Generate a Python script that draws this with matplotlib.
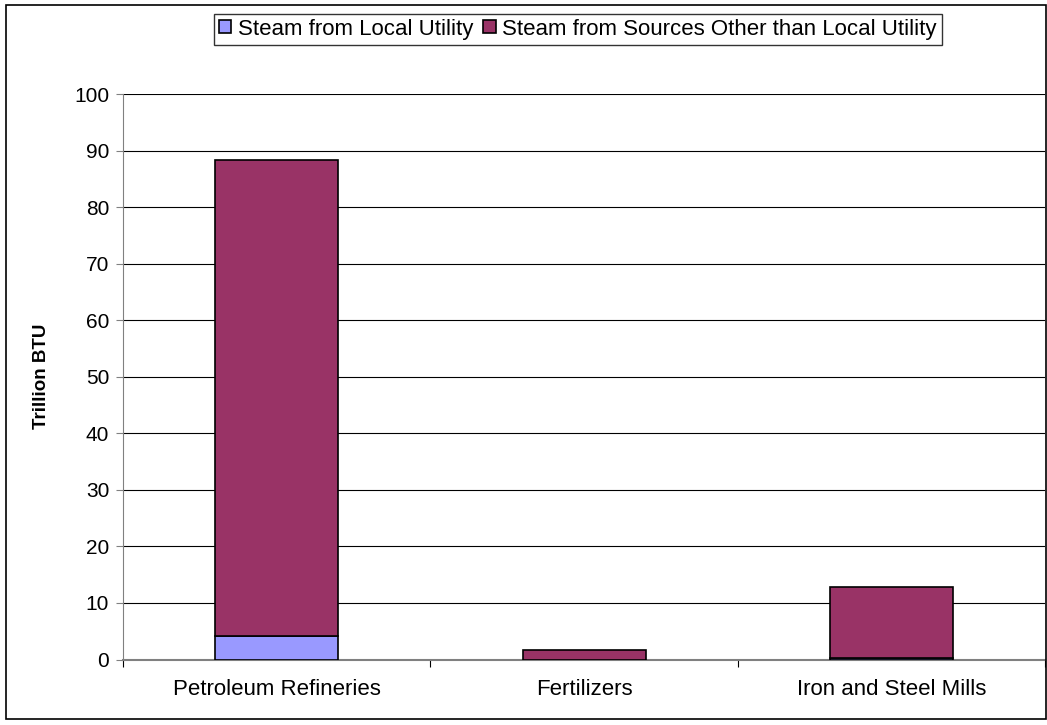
import matplotlib.pyplot as plt
import numpy as np
from matplotlib.patches import Rectangle

# Data
categories = ['Petroleum Refineries', 'Fertilizers', 'Iron and Steel Mills']
local_utility = [4.2, 0.0, 0.3]
other_sources = [84.1, 1.6, 12.6]
series_names = ['Steam from Local Utility', 'Steam from Sources Other than Local Utility']
colors = ['#9999FF', '#993366']

plt.rcParams['font.family'] = ['Liberation Sans', 'DejaVu Sans']

fig = plt.figure(figsize=(10.47, 7.25), dpi=100)
ax = fig.add_axes([0.1175, 0.0903, 0.881, 0.78])

x = np.arange(len(categories))
ax.bar(x, local_utility, width=0.4, color=colors[0], edgecolor='black',
       linewidth=1.2, label=series_names[0], zorder=3)
ax.bar(x, other_sources, width=0.4, bottom=local_utility, color=colors[1],
       edgecolor='black', linewidth=1.2, label=series_names[1], zorder=3)

ax.set_xlim(-0.5, 2.5)
ax.set_ylim(0, 100)
ax.set_yticks(np.arange(0, 101, 10))
ax.yaxis.grid(True, color='black', linewidth=0.8, zorder=0)
ax.tick_params(axis='y', labelsize=15, length=5, color='#808080', pad=5)

# category labels between boundary ticks
ax.set_xticks([-0.5, 0.5, 1.5, 2.5])
ax.set_xticklabels([])
ax.set_xticks(x, minor=True)
ax.set_xticklabels(categories, minor=True, fontsize=16)
ax.tick_params(axis='x', which='major', length=5, color='black')
ax.tick_params(axis='x', which='minor', length=0, pad=14)

for side in ['top', 'right']:
    ax.spines[side].set_visible(False)
ax.spines['left'].set_color('#808080')
ax.spines['bottom'].set_color('#808080')
ax.spines['bottom'].set_linewidth(1.5)

ax.set_ylabel('Trillion BTU', fontsize=13.5, fontweight='bold', labelpad=17)

leg = fig.legend(loc='upper center', bbox_to_anchor=(0.552, 0.981), ncol=2,
                 fontsize=16, frameon=True, fancybox=False, edgecolor='black',
                 handlelength=0.55, handleheight=0.55, handletextpad=0.3,
                 columnspacing=0.45, borderpad=0.22, borderaxespad=0)
leg.get_frame().set_linewidth(1.0)

# outer chart border
fig.patches.append(Rectangle((0.006, 0.008), 0.993, 0.985, transform=fig.transFigure,
                             fill=False, edgecolor='black', linewidth=1.2))

fig.savefig('out.png', dpi=100)
